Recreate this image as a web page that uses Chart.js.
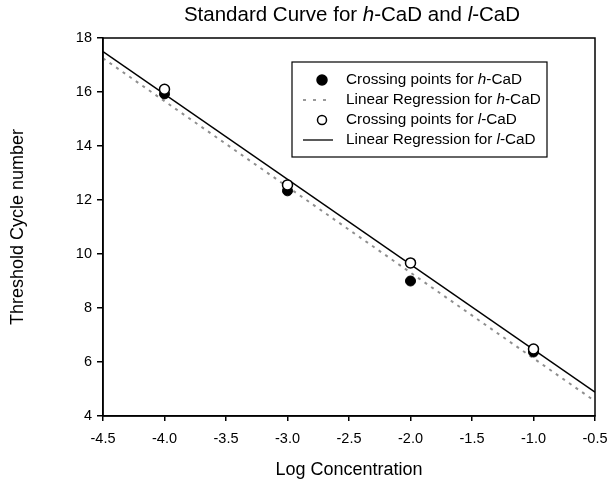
<!DOCTYPE html>
<html>
<head>
<meta charset="utf-8">
<script src="https://cdn.jsdelivr.net/npm/chart.js@4.4.1/dist/chart.umd.min.js"></script>
<style>
  html, body { margin: 0; padding: 0; background: #fff; }
  #wrap { width: 610px; height: 482px; }
</style>
</head>
<body>
<div id="wrap"><canvas id="curveChart" width="610" height="482"></canvas></div>
<script>
// Values
const logConc = [-4, -3, -2, -1];
const hCaD = [15.93, 12.34, 9.0, 6.37];
const lCaD = [16.1, 12.56, 9.67, 6.48];
const fitX = [-4.5, -0.5];
const hFit = [17.25, 4.55];
const lFit = [17.5, 4.88];

const FONT = "'Liberation Sans', Arial, sans-serif";

function toPoints(xs, ys) {
    return xs.map((x, i) => ({ x: x, y: ys[i] }));
}

// draw text pieces, some italic, starting at x
function drawRich(ctx, parts, x, y, size) {
    parts.forEach(p => {
        ctx.font = (p.i ? 'italic ' : '') + size + 'px ' + FONT;
        ctx.fillText(p.t, x, y);
        x += ctx.measureText(p.t).width;
    });
}
function richWidth(ctx, parts, size) {
    let w = 0;
    parts.forEach(p => {
        ctx.font = (p.i ? 'italic ' : '') + size + 'px ' + FONT;
        w += ctx.measureText(p.t).width;
    });
    return w;
}

const titleParts = [
    { t: 'Standard Curve for ' }, { t: 'h', i: true }, { t: '-CaD and ' }, { t: 'l', i: true }, { t: '-CaD' }
];
const legendItems = [
    { kind: 'filled', parts: [{ t: 'Crossing points for ' }, { t: 'h', i: true }, { t: '-CaD' }] },
    { kind: 'dash', parts: [{ t: 'Linear Regression for ' }, { t: 'h', i: true }, { t: '-CaD' }] },
    { kind: 'open', parts: [{ t: 'Crossing points for ' }, { t: 'l', i: true }, { t: '-CaD' }] },
    { kind: 'line', parts: [{ t: 'Linear Regression for ' }, { t: 'l', i: true }, { t: '-CaD' }] }
];

const frameAndLegend = {
    id: 'frameAndLegend',
    afterDraw(chart) {
        const ctx = chart.ctx;
        const a = chart.chartArea;
        ctx.save();
        // box around plot
        ctx.strokeStyle = '#000';
        ctx.lineWidth = 1.5;
        ctx.strokeRect(a.left, a.top, a.right - a.left, a.bottom - a.top);

        // title
        ctx.fillStyle = '#000';
        ctx.textBaseline = 'middle';
        const tw = richWidth(ctx, titleParts, 20.5);
        drawRich(ctx, titleParts, 352 - tw / 2, 15, 20.5);

        // legend
        const lx = a.left + 189, ly = a.top + 24, lw = 255, lh = 95;
        ctx.lineWidth = 1.2;
        ctx.strokeRect(lx, ly, lw, lh);
        legendItems.forEach((it, k) => {
            const y = ly + 18 + k * 20;
            const sx = lx + 30;
            if (it.kind === 'filled' || it.kind === 'open') {
                ctx.beginPath();
                ctx.arc(sx, y, it.kind === 'filled' ? 5 : 4.5, 0, Math.PI * 2);
                ctx.fillStyle = it.kind === 'filled' ? '#000' : '#fff';
                ctx.fill();
                ctx.lineWidth = 1.5;
                ctx.strokeStyle = '#000';
                ctx.stroke();
            } else {
                ctx.beginPath();
                ctx.moveTo(sx - 19, y);
                ctx.lineTo(sx + 11, y);
                if (it.kind === 'dash') {
                    ctx.setLineDash([3, 7]);
                    ctx.strokeStyle = '#999';
                    ctx.lineWidth = 2;
                } else {
                    ctx.setLineDash([]);
                    ctx.strokeStyle = '#000';
                    ctx.lineWidth = 1.3;
                }
                ctx.stroke();
                ctx.setLineDash([]);
            }
            ctx.fillStyle = '#000';
            drawRich(ctx, it.parts, lx + 54, y, 15.3);
        });
        ctx.restore();
    }
};

const ctx = document.getElementById('curveChart');
new Chart(ctx, {
    type: 'scatter',
    data: {
        datasets: [
            {
                label: 'Crossing points for l-CaD',
                data: toPoints(logConc, lCaD),
                pointRadius: 5,
                pointBackgroundColor: '#fff',
                pointBorderColor: '#000',
                pointBorderWidth: 1.5,
                order: 0
            },
            {
                label: 'Crossing points for h-CaD',
                data: toPoints(logConc, hCaD),
                pointRadius: 5,
                pointBackgroundColor: '#000',
                pointBorderColor: '#000',
                order: 1
            },
            {
                label: 'Linear Regression for l-CaD',
                data: toPoints(fitX, lFit),
                showLine: true,
                borderColor: '#000',
                borderWidth: 1.5,
                pointRadius: 0,
                order: 2
            },
            {
                label: 'Linear Regression for h-CaD',
                data: toPoints(fitX, hFit),
                showLine: true,
                borderColor: '#8f8f8f',
                borderWidth: 2,
                borderDash: [3, 5],
                pointRadius: 0,
                order: 3
            }
        ]
    },
    options: {
        responsive: false,
        animation: false,
        layout: { padding: { left: 0, right: 15, top: 38, bottom: 0 } },
        plugins: {
            legend: { display: false },
            title: { display: false },
            tooltip: { enabled: false }
        },
        scales: {
            x: {
                type: 'linear',
                min: -4.5,
                max: -0.5,
                afterFit(scale) {
                    scale.height = 66;
                    scale.paddingLeft = 0;
                    scale.paddingRight = 0;
                },
                ticks: {
                    stepSize: 0.5,
                    color: '#000',
                    padding: 9,
                    font: { family: FONT, size: 14.5 },
                    callback: v => v.toFixed(1)
                },
                grid: { drawOnChartArea: false, drawTicks: true, tickLength: 5, color: '#000', lineWidth: 1.5 },
                border: { display: true, color: '#000', width: 1.5 },
                title: {
                    display: true,
                    text: 'Log Concentration',
                    color: '#000',
                    font: { family: FONT, size: 18 },
                    padding: { top: 0, bottom: 1 }
                }
            },
            y: {
                min: 4,
                max: 18,
                afterFit(scale) { scale.width = 103; },
                ticks: {
                    stepSize: 2,
                    color: '#000',
                    padding: 5,
                    font: { family: FONT, size: 14.5 }
                },
                grid: { drawOnChartArea: false, drawTicks: true, tickLength: 6, color: '#000', lineWidth: 1.5 },
                border: { display: true, color: '#000', width: 1.5 },
                title: {
                    display: true,
                    text: 'Threshold Cycle number',
                    color: '#000',
                    font: { family: FONT, size: 18 },
                    padding: { top: 7, bottom: 0 }
                }
            }
        }
    },
    plugins: [frameAndLegend]
});
</script>
</body>
</html>
